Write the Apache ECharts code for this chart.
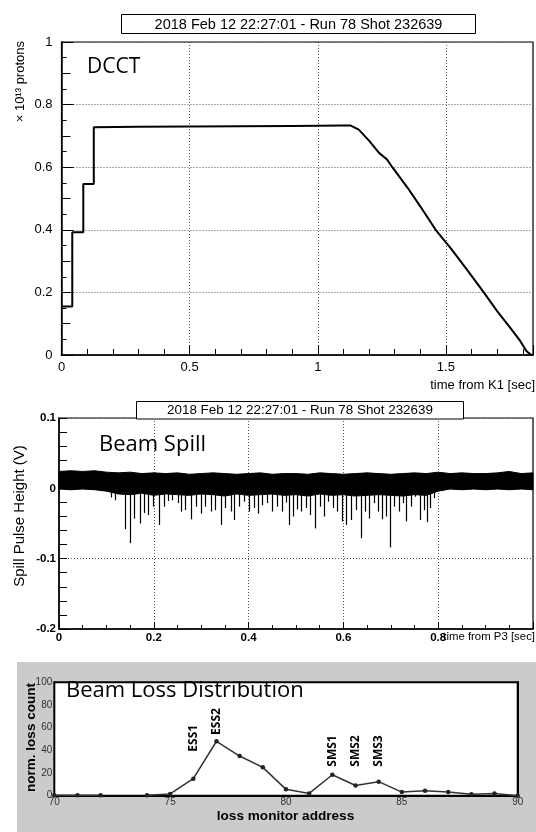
<!DOCTYPE html>
<html><head><meta charset="utf-8">
<script src="https://cdn.jsdelivr.net/npm/echarts@6/dist/echarts.min.js"></script>
<style>html,body{margin:0;padding:0;background:#fff}#c{width:536px;height:832px}</style>
</head><body><div id="c"></div>
<script>
// ---------- text ----------
const runTitle = '2018 Feb 12 22:27:01 - Run 78 Shot 232639';

// ---------- DCCT (top panel) ----------
const dcctTime  = [0, 0.042, 0.042, 0.085, 0.085, 0.126, 0.126, 0.3, 0.5, 0.7, 0.9, 1.1, 1.129, 1.16, 1.2, 1.24, 1.27, 1.291, 1.35, 1.4, 1.46, 1.52, 1.58, 1.648, 1.7, 1.75, 1.79, 1.815, 1.83, 1.84];
const dcctValue = [0.155, 0.155, 0.392, 0.392, 0.546, 0.546, 0.728, 0.729, 0.730, 0.731, 0.732, 0.733, 0.733, 0.72, 0.685, 0.645, 0.625, 0.6, 0.535, 0.475, 0.4, 0.34, 0.275, 0.2, 0.14, 0.088, 0.045, 0.012, 0.002, 0];

// ---------- Beam spill (middle panel) ----------
const bandTime = [0,0.025,0.05,0.075,0.1,0.125,0.15,0.175,0.2,0.225,0.25,0.275,0.3,0.325,0.35,0.375,0.4,0.425,0.45,0.475,0.5,0.525,0.55,0.575,0.6,0.625,0.65,0.675,0.7,0.725,0.75,0.775,0.8,0.825,0.85,0.875,0.9,0.925,0.95,0.975,1.0];
const bandHigh = [0.024,0.025,0.024,0.025,0.023,0.022,0.023,0.021,0.022,0.021,0.022,0.020,0.021,0.022,0.021,0.020,0.021,0.022,0.020,0.021,0.021,0.020,0.022,0.021,0.020,0.021,0.022,0.021,0.020,0.021,0.022,0.021,0.023,0.021,0.022,0.021,0.021,0.022,0.024,0.021,0.022];
const bandLow  = [-0.001,-0.002,-0.001,-0.002,-0.004,-0.008,-0.009,-0.007,-0.010,-0.008,-0.009,-0.010,-0.008,-0.009,-0.011,-0.008,-0.010,-0.009,-0.008,-0.010,-0.009,-0.011,-0.008,-0.010,-0.009,-0.011,-0.010,-0.009,-0.010,-0.011,-0.009,-0.010,-0.004,-0.001,-0.002,-0.001,-0.002,-0.001,-0.002,-0.001,-0.002];
const spikeTime  = [0.109,0.119,0.140,0.149,0.159,0.170,0.180,0.188,0.198,0.210,0.222,0.230,0.239,0.250,0.257,0.266,0.278,0.288,0.299,0.309,0.320,0.330,0.341,0.351,0.362,0.369,0.379,0.390,0.400,0.411,0.419,0.428,0.439,0.449,0.460,0.470,0.478,0.485,0.494,0.503,0.510,0.522,0.529,0.540,0.550,0.559,0.567,0.578,0.587,0.598,0.606,0.615,0.627,0.637,0.645,0.653,0.664,0.672,0.681,0.690,0.698,0.707,0.718,0.725,0.732,0.742,0.751,0.762,0.770,0.776,0.782,0.791];
const spikeDepth = [-0.013,-0.017,-0.058,-0.078,-0.043,-0.050,-0.035,-0.038,-0.026,-0.052,-0.026,-0.018,-0.017,-0.021,-0.033,-0.031,-0.044,-0.026,-0.036,-0.026,-0.033,-0.031,-0.052,-0.028,-0.033,-0.045,-0.026,-0.019,-0.033,-0.028,-0.036,-0.024,-0.021,-0.033,-0.026,-0.033,-0.020,-0.052,-0.040,-0.030,-0.033,-0.028,-0.038,-0.057,-0.026,-0.040,-0.019,-0.028,-0.033,-0.047,-0.052,-0.045,-0.031,-0.071,-0.033,-0.043,-0.021,-0.033,-0.044,-0.040,-0.084,-0.026,-0.033,-0.021,-0.047,-0.026,-0.012,-0.045,-0.031,-0.048,-0.028,-0.014];

// ---------- Beam loss distribution (bottom panel) ----------
const lossAddress = [70,71,72,73,74,75,76,77,78,79,80,81,82,83,84,85,86,87,88,89,90];
const lossValue   = [0.4,0.4,0.5,null,0.3,1.5,15,48,35,25,5.6,2,18.5,9,12.4,3.2,4.4,3.2,1.2,2,0];
const lossLabels       = ['ESS1','ESS2','SMS1','SMS2','SMS3'];
const lossLabelAddress = [76,77,82,83,84];
const lossLabelBase    = [38.8,53.6,25.6,25.6,25.6];

const F = '"Liberation Sans", Arial, Helvetica, sans-serif';
const OS = '"Open Sans", sans-serif';
const chart = echarts.init(document.getElementById('c'));
const dotted = (c) => ({show:true, lineStyle:{type:[1,2], color:c || '#555', width:1}});
const onStep = (v, s) => Math.abs(v / s - Math.round(v / s)) < 1e-6;
const noLine = {show:false};

const option = {
  animation:false,
  backgroundColor:'#fff',
  grid:[
    {left:61.5, top:42, width:473, height:313, show:true, borderColor:'#000', borderWidth:1.2, backgroundColor:'#fff'},
    {left:59, top:418, width:476, height:211, show:true, borderColor:'#000', borderWidth:1.2, backgroundColor:'#fff'},
    {left:54.3, top:682.3, width:463.4, height:113.4, show:true, borderColor:'#000', borderWidth:2, backgroundColor:'#fff', z:1}
  ],
  xAxis:[
    {gridIndex:0, type:'value', min:0, max:1.84, interval:0.5, position:'bottom',
     axisLine:{show:true, onZero:false, lineStyle:{color:'#000', width:1.5}},
     axisTick:{show:true, inside:true, length:10, lineStyle:{color:'#000'}},
     axisLabel:{fontFamily:F, fontSize:13, color:'#000', margin:6, formatter:v => onStep(v,0.5) ? String(+v.toFixed(2)) : ''},
     splitLine:dotted('#555')},
    {gridIndex:0, type:'value', min:0, max:1.84, interval:0.1, position:'bottom',
     axisLine:noLine, axisTick:{show:true, inside:true, length:6, lineStyle:{color:'#000'}},
     axisLabel:{show:false}, splitLine:{show:false}},
    {gridIndex:1, type:'value', min:0, max:1, interval:0.2, position:'bottom',
     axisLine:{show:true, onZero:false, lineStyle:{color:'#000', width:1.5}},
     axisTick:{show:true, inside:true, length:7, lineStyle:{color:'#000'}},
     minorTick:{show:true, splitNumber:4, length:4, lineStyle:{color:'#000'}},
     axisLabel:{fontFamily:F, fontSize:11.5, fontWeight:'bold', color:'#000', margin:3, formatter:v => v >= 0.999 ? '' : String(+v.toFixed(2))},
     splitLine:dotted('#555')},
    {gridIndex:2, type:'value', min:70, max:90, interval:5, position:'bottom',
     axisLine:{show:true, onZero:false, lineStyle:{color:'#000', width:2}},
     axisTick:{show:true, inside:true, length:5, lineStyle:{color:'#000'}},
     minorTick:{show:true, splitNumber:5, length:3, lineStyle:{color:'#000'}},
     axisLabel:{fontFamily:F, fontSize:10, color:'#333', margin:2},
     splitLine:dotted('#777')},
    {gridIndex:2, type:'value', min:70, max:90, interval:5, position:'top',
     axisLine:{show:true, onZero:false, lineStyle:{color:'#000', width:2}},
     axisTick:{show:true, inside:true, length:5, lineStyle:{color:'#000'}},
     minorTick:{show:true, splitNumber:5, length:3, lineStyle:{color:'#000'}},
     axisLabel:{show:false}, splitLine:{show:false}}
  ],
  yAxis:[
    {gridIndex:0, type:'value', min:0, max:1, interval:0.2, position:'left',
     axisLine:{show:true, onZero:false, lineStyle:{color:'#000', width:1.5}},
     axisTick:{show:true, inside:true, length:12, lineStyle:{color:'#000'}},
     axisLabel:{fontFamily:F, fontSize:13, color:'#000', margin:9, formatter:v => String(+v.toFixed(2))},
     splitLine:dotted('#555')},
    {gridIndex:0, type:'value', min:0, max:1, interval:0.1, position:'left',
     axisLine:noLine, axisTick:{show:true, inside:true, length:9, lineStyle:{color:'#000'}},
     minorTick:{show:true, splitNumber:2, length:5, lineStyle:{color:'#000'}},
     axisLabel:{show:false}, splitLine:{show:false}},
    {gridIndex:1, type:'value', min:-0.2, max:0.1, interval:0.1, position:'left',
     axisLine:{show:true, onZero:false, lineStyle:{color:'#000', width:1.5}},
     axisTick:{show:true, inside:true, length:8, lineStyle:{color:'#000'}},
     minorTick:{show:true, splitNumber:5, length:8, lineStyle:{color:'#000'}},
     axisLabel:{fontFamily:F, fontSize:11.5, fontWeight:'bold', color:'#000', margin:3, formatter:v => String(+v.toFixed(2))},
     splitLine:dotted('#555')},
    {gridIndex:2, type:'value', min:0, max:100, interval:20, position:'left',
     axisLine:{show:true, onZero:false, lineStyle:{color:'#000', width:2}},
     axisTick:{show:true, inside:true, length:5, lineStyle:{color:'#000'}},
     minorTick:{show:true, splitNumber:4, length:3, lineStyle:{color:'#000'}},
     axisLabel:{fontFamily:F, fontSize:10, color:'#333', margin:2},
     splitLine:dotted('#777')},
    {gridIndex:2, type:'value', min:0, max:100, interval:20, position:'right',
     axisLine:{show:true, onZero:false, lineStyle:{color:'#000', width:2}},
     axisTick:{show:true, inside:true, length:5, lineStyle:{color:'#000'}},
     minorTick:{show:true, splitNumber:4, length:3, lineStyle:{color:'#000'}},
     axisLabel:{show:false}, splitLine:{show:false}}
  ],
  series:[
    {type:'line', xAxisIndex:0, yAxisIndex:0, symbol:'none',
     data:dcctTime.map((t,i) => [t, dcctValue[i]]),
     lineStyle:{color:'#000', width:2}, z:5},
    {type:'custom', xAxisIndex:2, yAxisIndex:2,
     data:bandTime.map((t,i) => [t, bandHigh[i], bandLow[i]]),
     encode:{x:0, y:[1,2]},
     renderItem:(params, api) => {
       if (params.dataIndex !== 0) return null;
       const top = bandTime.map((t,i) => api.coord([t, bandHigh[i]]));
       const bottom = bandTime.map((t,i) => api.coord([t, bandLow[i]])).reverse();
       return {type:'polygon', shape:{points:top.concat(bottom)}, style:{fill:'#000', stroke:'#000', lineWidth:1}};
     }, z:5},
    {type:'custom', xAxisIndex:2, yAxisIndex:2,
     data:spikeTime.map((t,i) => [t, spikeDepth[i]]),
     renderItem:(params, api) => {
       const p0 = api.coord([api.value(0), 0]);
       const p1 = api.coord([api.value(0), api.value(1)]);
       const x = Math.round(p0[0]) + 0.5;
       return {type:'line', shape:{x1:x, y1:p0[1], x2:x, y2:p1[1]}, style:{stroke:'#000', lineWidth:1.2}};
     }, z:5},
    {type:'line', xAxisIndex:3, yAxisIndex:3, symbol:'circle', symbolSize:4.5,
     data:lossAddress.map((a,i) => [a, lossValue[i] === null ? '-' : lossValue[i]]),
     connectNulls:false,
     itemStyle:{color:'#222'}, lineStyle:{color:'#333', width:1.5}, z:5}
  ]
};
chart.setOption(option);

const labelGraphics = lossLabels.map((s,i) => {
  const p = chart.convertToPixel({xAxisIndex:3, yAxisIndex:3}, [lossLabelAddress[i], lossLabelBase[i]]);
  return {type:'text', x:p[0], y:p[1], rotation:Math.PI/2, z:20,
    style:{text:s, font:'bold 12px ' + OS, fill:'#000', textAlign:'left', textVerticalAlign:'middle'}};
});

chart.setOption({graphic:[
  {type:'rect', shape:{x:17, y:662, width:519, height:170}, style:{fill:'#cbcbcb'}, z:-10, silent:true},
  // title boxes
  {type:'rect', shape:{x:121.5, y:14.5, width:354, height:19}, style:{fill:'#fff', stroke:'#000', lineWidth:1}, z:20},
  {type:'text', x:298.5, y:24.5, z:21, style:{text:runTitle, font:'14.5px ' + F, fill:'#000', textAlign:'center', textVerticalAlign:'middle'}},
  {type:'rect', shape:{x:136.5, y:401.5, width:327, height:17.5}, style:{fill:'#fff', stroke:'#000', lineWidth:1}, z:20},
  {type:'text', x:300, y:410.5, z:21, style:{text:runTitle, font:'13.4px ' + F, fill:'#000', textAlign:'center', textVerticalAlign:'middle'}},
  // panel labels
  {type:'text', x:87, y:67, z:21, style:{text:'DCCT', font:'21px ' + OS, fill:'#000', textAlign:'left', textVerticalAlign:'middle'}},
  {type:'text', x:99, y:445, z:21, style:{text:'Beam Spill', font:'22px ' + OS, fill:'#000', textAlign:'left', textVerticalAlign:'middle'}},
  {type:'text', x:66, y:690.5, z:21, style:{text:'Beam Loss Distribution', font:'22px ' + OS, fill:'#000', textAlign:'left', textVerticalAlign:'middle'}},
  // axis titles
  {type:'text', x:20.5, y:41, rotation:Math.PI/2, z:21, style:{text:'× 10¹³ protons', font:'13px ' + F, fill:'#000', textAlign:'right', textVerticalAlign:'middle'}},
  {type:'text', x:535, y:385, z:21, style:{text:'time from K1 [sec]', font:'13px ' + F, fill:'#000', textAlign:'right', textVerticalAlign:'middle'}},
  {type:'text', x:20, y:516, rotation:Math.PI/2, z:21, style:{text:'Spill Pulse Height (V)', font:'15px ' + F, fill:'#000', textAlign:'center', textVerticalAlign:'middle'}},
  {type:'text', x:535, y:636.5, z:21, style:{text:'time from P3 [sec]', font:'11.4px ' + F, fill:'#000', textAlign:'right', textVerticalAlign:'middle'}},
  {type:'text', x:31.5, y:737.5, rotation:Math.PI/2, z:21, style:{text:'norm. loss count', font:'bold 13.5px ' + F, fill:'#000', textAlign:'center', textVerticalAlign:'middle'}},
  {type:'text', x:285.5, y:816, z:21, style:{text:'loss monitor address', font:'bold 13.6px ' + F, fill:'#000', textAlign:'center', textVerticalAlign:'middle'}}
].concat(labelGraphics)});
</script>
</body></html>
